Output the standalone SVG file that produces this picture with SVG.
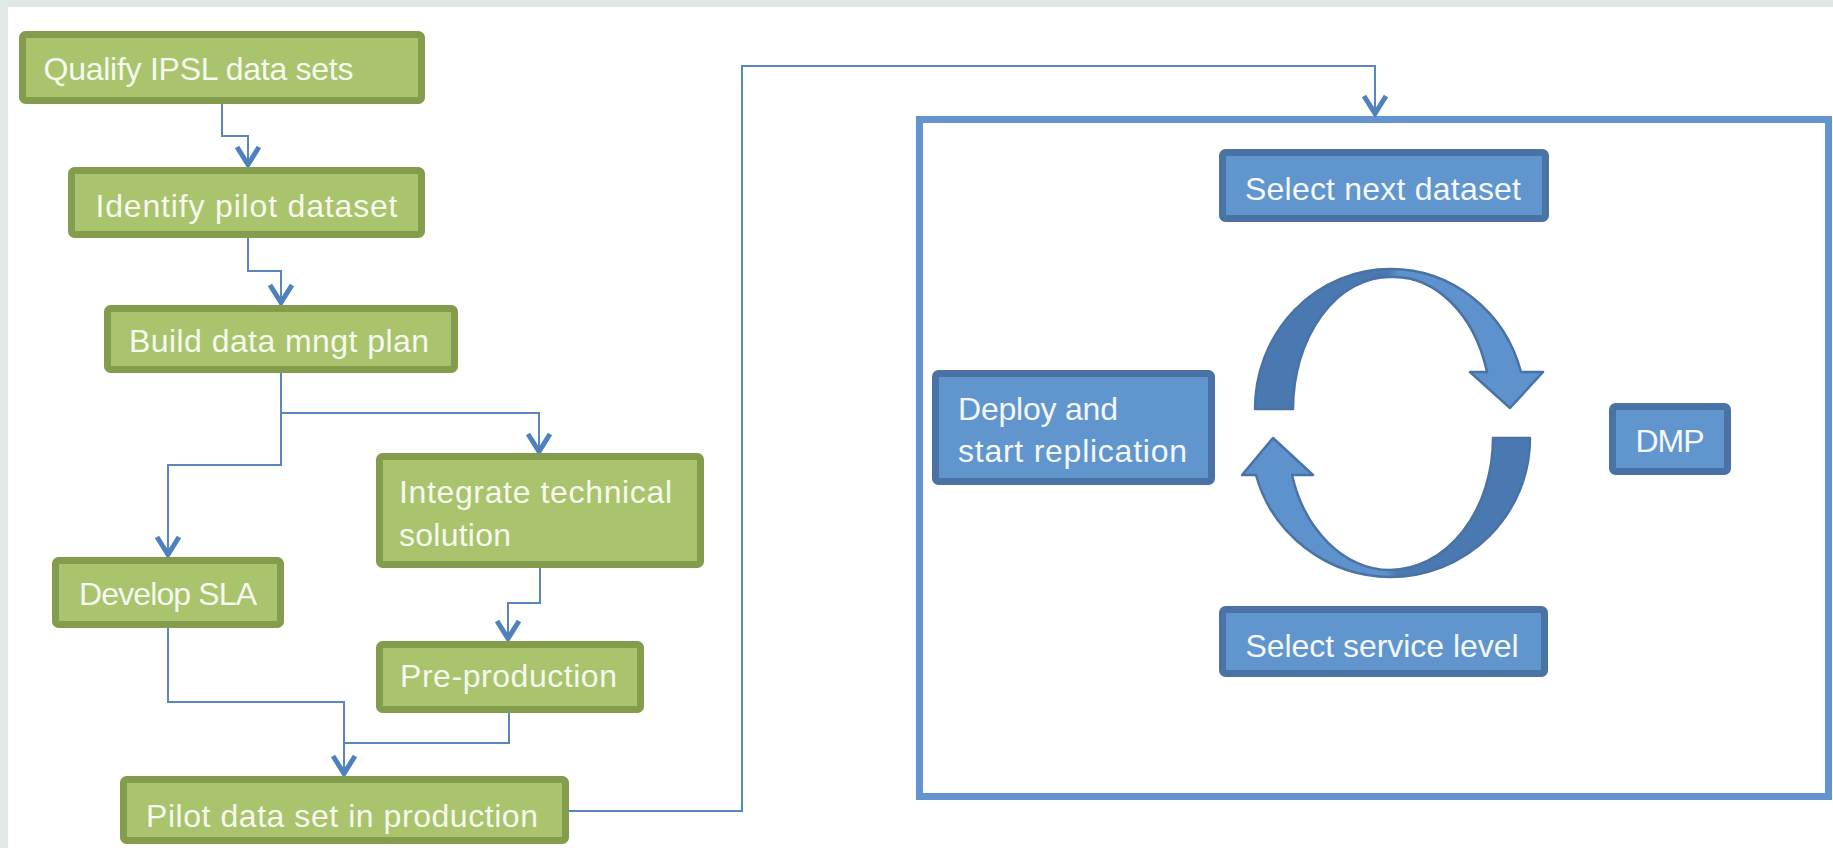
<svg xmlns="http://www.w3.org/2000/svg" width="1833" height="848" viewBox="0 0 1833 848">
<style>
.g rect{fill:#a9c46c;stroke:#839d4d;stroke-width:7}
.b rect{fill:#6096cd;stroke:#4a72a5;stroke-width:7}
text{font-family:"Liberation Sans",Arial,sans-serif;font-size:32px}
.g text{fill:#f6f9ee}
.b text{fill:#f4f8fd}
.c path{fill:none;stroke:#5a86c0;stroke-width:2}
</style>
<defs>
<marker id="arr" markerUnits="userSpaceOnUse" markerWidth="32" markerHeight="32" viewBox="-26 -16 32 32" refX="0" refY="0" orient="auto" overflow="visible">
<path d="M -20 -11 L -2.5 0 L -20 11" fill="none" stroke="#4f81bd" stroke-width="5"/>
</marker>
<linearGradient id="gTop" gradientUnits="userSpaceOnUse" x1="1255" y1="0" x2="1543" y2="0">
<stop offset="0" stop-color="#4a78b0"/><stop offset="0.46" stop-color="#4a78b0"/><stop offset="0.5" stop-color="#5d92cc"/><stop offset="1" stop-color="#5d92cc"/>
</linearGradient>
<linearGradient id="gBot" gradientUnits="userSpaceOnUse" x1="1242" y1="0" x2="1530" y2="0">
<stop offset="0" stop-color="#5d92cc"/><stop offset="0.5" stop-color="#5d92cc"/><stop offset="0.54" stop-color="#4a78b0"/><stop offset="1" stop-color="#4a78b0"/>
</linearGradient>
</defs>
<rect x="0" y="0" width="1833" height="848" fill="#e1e9e6"/>
<rect x="8" y="7" width="1825" height="841" fill="#ffffff"/>

<g id="container">
<rect x="919.5" y="119.5" width="909" height="677" fill="none" stroke="#6394cf" stroke-width="7"/>
</g>

<g id="connectors" class="c">
<path d="M 222 104 V 136 H 248 V 167" marker-end="url(#arr)"/>
<path d="M 248 238 V 271 H 281 V 305" marker-end="url(#arr)"/>
<path d="M 281 373 V 465 H 168 V 557" marker-end="url(#arr)"/>
<path d="M 281 413 H 539 V 454" marker-end="url(#arr)"/>
<path d="M 540 568 V 603 H 508 V 641" marker-end="url(#arr)"/>
<path d="M 168 628 V 702 H 344 V 776" marker-end="url(#arr)"/>
<path d="M 509 713 V 743 H 344"/>
<path d="M 569 811 H 742 V 66 H 1375 V 116" marker-end="url(#arr)"/>
</g>

<g id="n1" class="g"><rect x="22.5" y="34.5" width="399" height="66" rx="3"/><text x="43.5" y="80" textLength="310">Qualify IPSL data sets</text></g>
<g id="n2" class="g"><rect x="71.5" y="170.5" width="350" height="64" rx="3"/><text x="246.5" y="217" text-anchor="middle" textLength="302">Identify pilot dataset</text></g>
<g id="n3" class="g"><rect x="107.5" y="308.5" width="347" height="61" rx="3"/><text x="279" y="352" text-anchor="middle" textLength="300">Build data mngt plan</text></g>
<g id="n4" class="g"><rect x="55.5" y="560.5" width="225" height="64" rx="3"/><text x="168" y="605" text-anchor="middle" textLength="178">Develop SLA</text></g>
<g id="n5" class="g"><rect x="379.5" y="456.5" width="321" height="108" rx="3"/><text x="399" y="503" textLength="273">Integrate technical</text><text x="399" y="546" textLength="112">solution</text></g>
<g id="n6" class="g"><rect x="379.5" y="644.5" width="261" height="65" rx="3"/><text x="508.5" y="687" text-anchor="middle" textLength="217">Pre-production</text></g>
<g id="n7" class="g"><rect x="123.5" y="779.5" width="442" height="61" rx="3"/><text x="342" y="827" text-anchor="middle" textLength="392">Pilot data set in production</text></g>

<g id="n8" class="b"><rect x="1222.5" y="152.5" width="323" height="66" rx="3"/><text x="1383" y="200" text-anchor="middle" textLength="276">Select next dataset</text></g>
<g id="n9" class="b"><rect x="935.5" y="373.5" width="276" height="108" rx="3"/><text x="958" y="420" textLength="160">Deploy and</text><text x="958" y="462" textLength="229">start replication</text></g>
<g id="n10" class="b"><rect x="1612.5" y="406.5" width="115" height="65" rx="3"/><text x="1670" y="452" text-anchor="middle" textLength="69">DMP</text></g>
<g id="n11" class="b"><rect x="1222.5" y="609.5" width="322" height="64" rx="3"/><text x="1382" y="657" text-anchor="middle" textLength="273">Select service level</text></g>

<g id="cycle">
<path d="M 1255 409 A 135 140 0 0 1 1390 269 A 135 140 0 0 1 1521 372 L 1543 372 L 1510 408 L 1470 372 L 1487 372 A 97 132 0 0 0 1390 277 A 97 132 0 0 0 1293 409 Z" fill="url(#gTop)" stroke="#4a72a5" stroke-width="2.5" stroke-linejoin="round"/>
<path d="M 1530 438 A 140 139 0 0 1 1390 577 A 140 139 0 0 1 1256 475 L 1242 475 L 1273 438 L 1313 475 L 1292 475 A 103 132 0 0 0 1390 570 A 103 132 0 0 0 1493 438 Z" fill="url(#gBot)" stroke="#4a72a5" stroke-width="2.5" stroke-linejoin="round"/>
</g>
</svg>
